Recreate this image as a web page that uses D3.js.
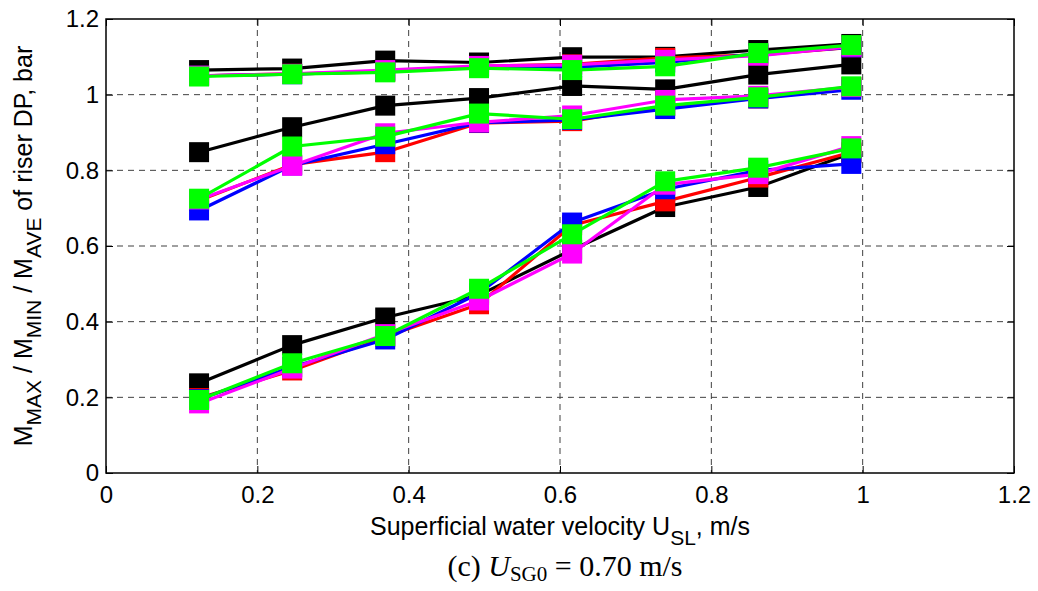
<!DOCTYPE html>
<html><head><meta charset="utf-8">
<script src="https://cdn.jsdelivr.net/npm/d3@7"></script>
<style>body{margin:0;background:#fff;} svg{display:block;}</style>
</head><body>
<script>
// ---- data ----
const xValues = [0.123, 0.246, 0.369, 0.493, 0.616, 0.739, 0.862, 0.985];
const xTicks = [0, 0.2, 0.4, 0.6, 0.8, 1, 1.2];
const yTicks = [0, 0.2, 0.4, 0.6, 0.8, 1, 1.2];
const colors = ["#000000", "#ff0000", "#0000ff", "#ff00ff", "#00ff00"];
// MAX group
const maxBlack   = [1.065, 1.069, 1.090, 1.085, 1.099, 1.100, 1.118, 1.134];
const maxRed     = [1.050, 1.055, 1.060, 1.075, 1.080, 1.097, 1.105, 1.125];
const maxBlue    = [1.050, 1.054, 1.062, 1.073, 1.072, 1.085, 1.108, 1.125];
const maxMagenta = [1.050, 1.055, 1.065, 1.076, 1.079, 1.092, 1.103, 1.127];
const maxGreen   = [1.048, 1.054, 1.059, 1.070, 1.065, 1.075, 1.110, 1.131];
// AVE group
const aveBlack   = [0.848, 0.914, 0.971, 0.991, 1.023, 1.014, 1.053, 1.080];
const aveRed     = [0.720, 0.815, 0.848, 0.925, 0.930, 0.970, 0.990, 1.020];
const aveBlue    = [0.694, 0.813, 0.869, 0.926, 0.933, 0.962, 0.990, 1.013];
const aveMagenta = [0.723, 0.812, 0.898, 0.927, 0.945, 0.986, 0.997, 1.020];
const aveGreen   = [0.725, 0.863, 0.889, 0.950, 0.935, 0.971, 0.993, 1.022];
// MIN group
const minBlack   = [0.237, 0.338, 0.411, 0.470, 0.590, 0.703, 0.756, 0.845];
const minRed     = [0.198, 0.271, 0.360, 0.446, 0.655, 0.718, 0.781, 0.848];
const minBlue    = [0.195, 0.280, 0.353, 0.475, 0.662, 0.750, 0.800, 0.817];
const minMagenta = [0.184, 0.276, 0.367, 0.456, 0.580, 0.762, 0.790, 0.864];
const minGreen   = [0.193, 0.290, 0.362, 0.487, 0.631, 0.771, 0.807, 0.858];

const seriesByColor = [
  [maxBlack, aveBlack, minBlack],
  [maxRed, aveRed, minRed],
  [maxBlue, aveBlue, minBlue],
  [maxMagenta, aveMagenta, minMagenta],
  [maxGreen, aveGreen, minGreen]
];

// ---- layout ----
const W = 1038, H = 591;
const L = 106, R = 1014, T = 19, B = 473;
const svg = d3.select("body").append("svg").attr("width", W).attr("height", H);
const x = d3.scaleLinear().domain([0, 1.2]).range([L, R]);
const y = d3.scaleLinear().domain([0, 1.2]).range([B, T]);

// grid
const grid = svg.append("g");
grid.selectAll("line.gx").data(xTicks.slice(1, -1)).join("line")
  .attr("x1", d => x(d)).attr("x2", d => x(d)).attr("y1", T).attr("y2", B)
  .attr("stroke", "#404040").attr("stroke-width", 1).attr("stroke-dasharray", "6,5");
grid.selectAll("line.gy").data(yTicks.slice(1, -1)).join("line")
  .attr("y1", d => y(d)).attr("y2", d => y(d)).attr("x1", L).attr("x2", R)
  .attr("stroke", "#404040").attr("stroke-width", 1).attr("stroke-dasharray", "6,5");

// series
const line = d3.line().x((d, i) => x(xValues[i])).y(d => y(d));
const ms = 20;
seriesByColor.forEach((group, ci) => {
  group.forEach(vals => {
    const g = svg.append("g");
    g.append("path").datum(vals).attr("d", line)
      .attr("fill", "none").attr("stroke", colors[ci]).attr("stroke-width", 3.2)
      .attr("stroke-linejoin", "round");
    g.selectAll("rect").data(vals).join("rect")
      .attr("x", (d, i) => x(xValues[i]) - ms / 2).attr("y", d => y(d) - ms / 2)
      .attr("width", ms).attr("height", ms).attr("fill", colors[ci]);
  });
});

// axes
const fontS = "'Liberation Sans', Arial, sans-serif";
const ax = svg.append("g").attr("transform", `translate(0,${B})`)
  .call(d3.axisBottom(x).tickValues(xTicks).tickFormat(d3.format("~g")).tickSize(-7).tickPadding(10));
const ay = svg.append("g").attr("transform", `translate(${L},0)`)
  .call(d3.axisLeft(y).tickValues(yTicks).tickFormat(d3.format("~g")).tickSize(-7).tickPadding(7));
const at = svg.append("g").attr("transform", `translate(0,${T})`)
  .call(d3.axisTop(x).tickValues(xTicks).tickFormat("").tickSize(-7));
const ar = svg.append("g").attr("transform", `translate(${R},0)`)
  .call(d3.axisRight(y).tickValues(yTicks).tickFormat("").tickSize(-7));
[ax, ay, at, ar].forEach(a => {
  a.select(".domain").remove();
  a.selectAll("line").attr("stroke", "#000").attr("stroke-width", 1);
  a.selectAll("text").attr("font-family", fontS).attr("font-size", 24).attr("fill", "#000");
});
ax.selectAll("text").attr("dy", null).attr("y", 30);
svg.append("rect").attr("x", L).attr("y", T).attr("width", R - L).attr("height", B - T)
  .attr("fill", "none").attr("stroke", "#000").attr("stroke-width", 1.5);

// y label
const yl = svg.append("text").attr("font-family", fontS).attr("font-size", 25).attr("fill", "#000")
  .attr("text-anchor", "middle")
  .attr("transform", `translate(32,${(T + B) / 2}) rotate(-90)`);
const parts = [["M", false], ["MAX", true], [" / M", false], ["MIN", true], [" / M", false], ["AVE", true], [" of riser DP, bar", false]];
let prevSub = false;
parts.forEach(([t, sub]) => {
  const ts = yl.append("tspan").text(t);
  if (sub) ts.attr("font-size", 21);
  if (sub && !prevSub) ts.attr("dy", 9);
  if (!sub && prevSub) ts.attr("dy", -9);
  prevSub = sub;
});

// x label
const xl = svg.append("text").attr("font-family", fontS).attr("font-size", 25).attr("fill", "#000")
  .attr("text-anchor", "middle").attr("x", (L + R) / 2).attr("y", 535);
xl.append("tspan").text("Superficial water velocity U");
xl.append("tspan").text("SL").attr("font-size", 21).attr("dy", 10);
xl.append("tspan").text(", m/s").attr("dy", -10);

// caption
const cap = svg.append("text").attr("font-family", "'Liberation Serif', 'Times New Roman', serif")
  .attr("font-size", 30).attr("fill", "#000").attr("text-anchor", "middle")
  .attr("x", 565).attr("y", 576);
cap.append("tspan").text("(c) ");
cap.append("tspan").text("U").attr("font-style", "italic");
cap.append("tspan").text("SG0").attr("font-size", 21).attr("dy", 5);
cap.append("tspan").text(" = 0.70 m/s").attr("dy", -5);
</script>
</body></html>
